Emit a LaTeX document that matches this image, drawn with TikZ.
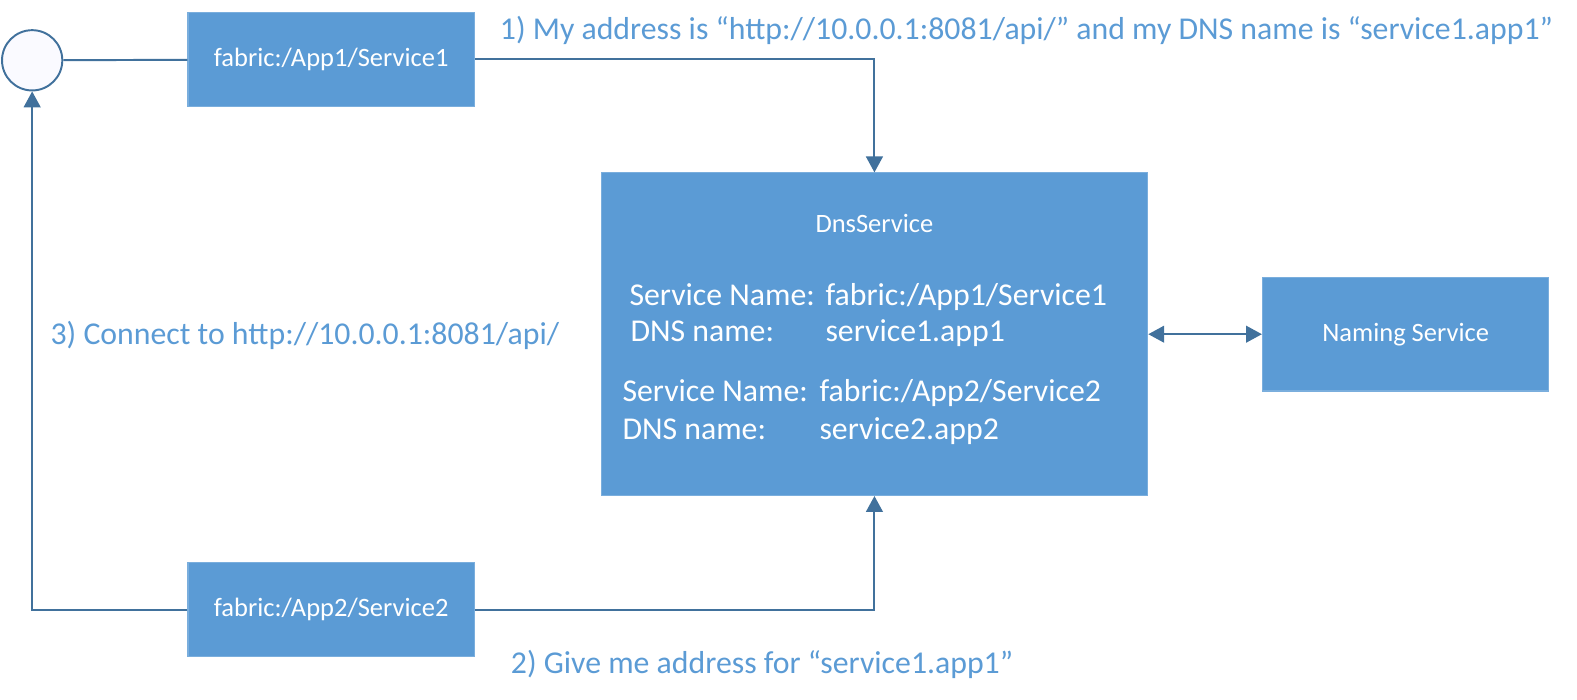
\documentclass[tikz,border=0pt]{standalone}
\usepackage{fontspec}
\setmainfont{Carlito}
\usetikzlibrary{arrows.meta}
\definecolor{boxblue}{HTML}{5B9BD5}
\definecolor{boxedge}{HTML}{7AAEDD}
\definecolor{linkblue}{HTML}{41719C}
\definecolor{noteblue}{HTML}{5B9BD5}
\begin{document}
\begin{tikzpicture}[x=0.02cm,y=-0.02cm,
    svcbox/.style={draw=boxedge,line width=0.6pt,fill=boxblue,text=white,
      font=\fontsize{15}{18}\selectfont,inner sep=0pt},
    note/.style={text=noteblue,font=\fontsize{18}{22}\selectfont,inner sep=0pt,anchor=base west},
    entry/.style={text=white,font=\fontsize{18}{22}\selectfont,inner sep=0pt,anchor=base west},
    link/.style={draw=linkblue,line width=1.1pt},
    tip/.style={-{Triangle[length=9pt,width=9.5pt]}}]
        \useasboundingbox (0,0) rectangle (1569,695.5);
        % endpoint and services
        \node [circle,draw=linkblue,line width=1.1pt,fill=blue!2,minimum size=1.2cm,inner sep=0pt] (client) at (32,60) {};
        \node [svcbox,minimum width=5.7cm,minimum height=1.88cm] (svcA) at (329.5,59) {fabric:/App1/Service1};
        \node [svcbox,minimum width=5.7cm,minimum height=1.86cm] (svcB) at (329.5,606.5) {fabric:/App2/Service2};
        \node [svcbox,minimum width=10.88cm,minimum height=6.42cm] (dns) at (870,332.5) {};
        \node [svcbox,minimum width=5.7cm,minimum height=2.26cm] (naming) at (1398.5,332.5) {Naming Service};
        % inside DnsService
        \node [text=white,font=\fontsize{15}{18}\selectfont,inner sep=0pt] (dnstitle) at (870,222) {DnsService};
        \node [entry] (nameA) at (626,304) {Service Name:};
        \node [entry] (valA) at (821,304) {fabric:/App1/Service1};
        \node [entry] (dnsA) at (627,340) {DNS name:};
        \node [entry] (dnsvalA) at (821,340) {service1.app1};
        \node [entry] (nameB) at (619,399) {Service Name:};
        \node [entry] (valB) at (815,399) {fabric:/App2/Service2};
        \node [entry] (dnsB) at (619,437) {DNS name:};
        \node [entry] (dnsvalB) at (815,437) {service2.app2};
        % connectors
        \draw [link] (client) -- (svcA);
        \draw [link,tip] (svcA.east) -| (dns.north);
        \draw [link,tip] (svcB.east) -| (dns.south);
        \draw [link,tip] (svcB.west) -| (client.south);
        \draw [link,{Triangle[length=9pt,width=9.5pt]}-{Triangle[length=9pt,width=9.5pt]}] (dns) -- (naming);
        % notes
        \node [note] (step1) at (497,39) {1) My address is “http://10.0.0.1:8081/api/” and my DNS name is “service1.app1”};
        \node [note] (step3) at (50,343) {3) Connect to http://10.0.0.1:8081/api/};
        \node [note] (step2) at (508,670) {2) Give me address for “service1.app1”};
\end{tikzpicture}
\end{document}
